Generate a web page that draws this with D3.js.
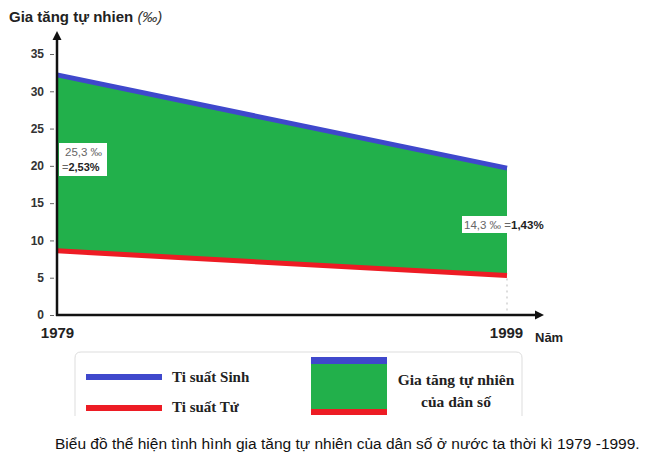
<!DOCTYPE html>
<html><head><meta charset="utf-8">
<script src="https://cdn.jsdelivr.net/npm/d3@7"></script>
<style>body{margin:0;background:#fff}svg{display:block}</style>
</head><body>
<svg id="c" width="650" height="460"></svg>
<script>
const years = [1979, 1999];
const birthRate = [32.2, 19.7];
const deathRate = [8.6, 5.3];
const yTicks = [0, 5, 10, 15, 20, 25, 30, 35];
const naturalLabels = ["25,3 ‰", "=2,53%", "14,3 ‰", "=1,43%"];

const svg = d3.select("#c");
const x = d3.scaleLinear().domain([1979, 1999]).range([57, 507]);
const y = d3.scaleLinear().domain([0, 35]).range([315, 54]);
const data = years.map((yr, i) => ({yr, b: birthRate[i], d: deathRate[i]}));

const GREEN = "#22b04b", BLUE = "#3f48cc", RED = "#ed1c24";

// area
svg.append("path").datum(data)
  .attr("d", d3.area().x(d => x(d.yr)).y0(d => y(d.d)).y1(d => y(d.b)))
  .attr("fill", GREEN);
svg.append("path").datum(data)
  .attr("d", d3.line().x(d => x(d.yr)).y(d => y(d.b)))
  .attr("stroke", BLUE).attr("stroke-width", 5).attr("fill", "none");
svg.append("path").datum(data)
  .attr("d", d3.line().x(d => x(d.yr)).y(d => y(d.d)))
  .attr("stroke", RED).attr("stroke-width", 5).attr("fill", "none");

// dotted drop line at 1999
svg.append("line").attr("x1", x(1999)).attr("x2", x(1999))
  .attr("y1", y(deathRate[1]) + 3).attr("y2", y(0))
  .attr("stroke", "#bbb").attr("stroke-width", 1).attr("stroke-dasharray", "2,4");

// y axis ticks
const yAxis = d3.axisLeft(y).tickValues(yTicks).tickSize(4).tickPadding(6);
const gy = svg.append("g").attr("transform", "translate(54,0)").call(yAxis);
gy.select(".domain").remove();
gy.selectAll(".tick line").attr("stroke", "#666");
gy.selectAll(".tick text").attr("font-family", "Arial, 'Liberation Sans', sans-serif")
  .attr("font-size", 12).attr("font-weight", "bold").attr("fill", "#333");

// axis lines with arrows
svg.append("line").attr("x1", 57).attr("x2", 57).attr("y1", y(0) + 1).attr("y2", 38)
  .attr("stroke", "#111").attr("stroke-width", 2.5);
svg.append("path").attr("d", "M57,31 L52.5,40 L61.5,40 Z").attr("fill", "#111");
svg.append("line").attr("x1", 56).attr("x2", 537).attr("y1", y(0)).attr("y2", y(0))
  .attr("stroke", "#111").attr("stroke-width", 2.5);
svg.append("path").attr("d", `M544,${y(0)} L535,${y(0)-4.5} L535,${y(0)+4.5} Z`).attr("fill", "#111");

// x labels
const xAxis = d3.axisBottom(x).tickValues(years).tickFormat(d3.format("d")).tickSize(0).tickPadding(12);
const gx = svg.append("g").attr("transform", `translate(0,${y(0)})`).call(xAxis);
gx.select(".domain").remove();
gx.selectAll(".tick text").attr("font-family", "Arial, 'Liberation Sans', sans-serif")
  .attr("font-size", 15).attr("font-weight", "bold").attr("fill", "#222");
gx.selectAll(".tick").filter(d => d === 1979).select("text").attr("dx", 0);
gx.selectAll(".tick").filter(d => d === 1999).select("text").attr("dx", -1);
svg.append("text").attr("x", 535).attr("y", 342).text("Năm")
  .attr("font-family", "Arial, 'Liberation Sans', sans-serif").attr("font-size", 13)
  .attr("font-weight", "bold").attr("fill", "#222");

// title
const t = svg.append("text").attr("x", 9).attr("y", 22)
  .attr("font-family", "Arial, 'Liberation Sans', sans-serif").attr("font-size", 15)
  .attr("font-weight", "bold").attr("fill", "#222");
t.append("tspan").text("Gia tăng tự nhien ");
t.append("tspan").text("(‰)").attr("font-style", "italic").attr("font-weight", "normal").attr("fill", "#333");

// value labels
const lf = "Arial, 'Liberation Sans', sans-serif";
svg.append("rect").attr("x", 59).attr("y", 143).attr("width", 48).attr("height", 33).attr("fill", "#fff");
svg.append("text").attr("x", 65).attr("y", 156).text(naturalLabels[0])
  .attr("font-family", lf).attr("font-size", 11.5).attr("fill", "#666");
const l2 = svg.append("text").attr("x", 62).attr("y", 171).attr("font-family", lf).attr("font-size", 11);
l2.append("tspan").text("=").attr("fill", "#666");
l2.append("tspan").text(naturalLabels[1].slice(1)).attr("font-weight", "bold").attr("fill", "#222");

svg.append("rect").attr("x", 462).attr("y", 216).attr("width", 45).attr("height", 17).attr("fill", "#fff");
const l3 = svg.append("text").attr("x", 464).attr("y", 229).attr("font-family", lf).attr("font-size", 11.5);
l3.append("tspan").text(naturalLabels[2] + " ").attr("fill", "#666");
l3.append("tspan").text("=").attr("fill", "#666");
l3.append("tspan").text(naturalLabels[3].slice(1)).attr("font-weight", "bold").attr("fill", "#222");

// legend
const sf = "'Liberation Serif', 'Times New Roman', serif";
svg.append("path").attr("d", "M75,416 L75,358 Q75,352 81,352 L516,352 Q522,352 522,358 L522,416")
  .attr("fill", "none").attr("stroke", "#ddd").attr("stroke-width", 1);
svg.append("rect").attr("x", 86).attr("y", 374).attr("width", 76).attr("height", 6).attr("fill", BLUE);
svg.append("rect").attr("x", 86).attr("y", 405).attr("width", 76).attr("height", 6).attr("fill", RED);
svg.append("text").attr("x", 172).attr("y", 382).text("Ti suất Sinh")
  .attr("font-family", sf).attr("font-size", 15).attr("font-weight", "bold").attr("fill", "#222");
svg.append("text").attr("x", 172).attr("y", 412).text("Ti suất Tử")
  .attr("font-family", sf).attr("font-size", 15).attr("font-weight", "bold").attr("fill", "#222");
svg.append("rect").attr("x", 311).attr("y", 357).attr("width", 76).attr("height", 58).attr("fill", GREEN);
svg.append("rect").attr("x", 311).attr("y", 357).attr("width", 76).attr("height", 7).attr("fill", BLUE);
svg.append("rect").attr("x", 311).attr("y", 409).attr("width", 76).attr("height", 6).attr("fill", RED);
svg.append("text").attr("x", 456).attr("y", 385).attr("text-anchor", "middle").text("Gia tăng tự nhiên")
  .attr("font-family", sf).attr("font-size", 15.5).attr("font-weight", "bold").attr("fill", "#222");
svg.append("text").attr("x", 456).attr("y", 407).attr("text-anchor", "middle").text("của dân số")
  .attr("font-family", sf).attr("font-size", 15.5).attr("font-weight", "bold").attr("fill", "#222");

// caption
svg.append("text").attr("x", 55).attr("y", 449)
  .text("Biểu đồ thể hiện tình hình gia tăng tự nhiên của dân số ở nước ta thời kì 1979 -1999.")
  .attr("font-family", lf).attr("font-size", 15.5).attr("fill", "#111");
</script>
</body></html>
